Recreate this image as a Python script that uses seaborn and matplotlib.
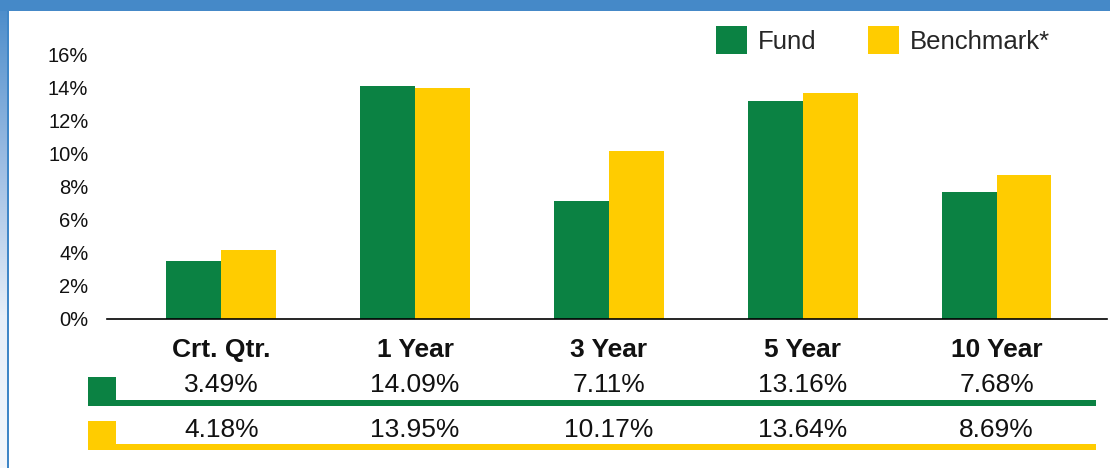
import numpy as np
import pandas as pd
import matplotlib.pyplot as plt
import matplotlib.transforms as mtransforms
from matplotlib.colors import LinearSegmentedColormap
from matplotlib.patches import Rectangle
import seaborn as sns

periods = ['Crt. Qtr.', '1 Year', '3 Year', '5 Year', '10 Year']
fund = [3.49, 14.09, 7.11, 13.16, 7.68]
benchmark = [4.18, 13.95, 10.17, 13.64, 8.69]
series = ['Fund', 'Benchmark*']
colors = ['#0B8243', '#FFCC00']
yticks = [0, 2, 4, 6, 8, 10, 12, 14, 16]

df = pd.DataFrame({
    'period': periods * 2,
    'series': [series[0]] * len(fund) + [series[1]] * len(benchmark),
    'value': fund + benchmark,
})

sns.set_style('white')
plt.rcParams['font.family'] = ['Liberation Sans', 'DejaVu Sans']

W, H = 1110, 468
fig = plt.figure(figsize=(11.1, 4.68), dpi=100)


def fx(px):
    return px / W


def fy(py):
    return 1 - py / H


# blue frame: top bar + left gradient strip
fig.add_artist(Rectangle((0, fy(11)), 1, 11 / H, transform=fig.transFigure,
                         color='#4589C8', lw=0))
strip = fig.add_axes([0, 0, fx(7), fy(11)])
cmap = LinearSegmentedColormap.from_list('strip', ['#4E8ECB', '#9DBDE3', '#E6EEF8', '#F3F7FC'])
strip.imshow(np.linspace(0, 1, 256).reshape(-1, 1), aspect='auto', cmap=cmap)
strip.axis('off')
fig.add_artist(Rectangle((fx(7), 0), 1.5 / W, fy(11), transform=fig.transFigure,
                         color='#3F86C7', lw=0))

ax = fig.add_axes([fx(107), fy(319), fx(1107) - fx(107), fy(54) - fy(319)])
sns.barplot(data=df, x='period', y='value', hue='series', palette=colors,
            width=0.567, gap=0, linewidth=0, saturation=1, ax=ax)

ax.set_ylim(0, 16)
ax.set_xlim(-0.59, 4.57)
ax.set_yticks(yticks)
ax.set_yticklabels([f'{t}%' for t in yticks], fontsize=14.5, color='#111111')
ax.tick_params(axis='y', length=0, pad=13.5)
ax.tick_params(axis='x', length=0, pad=14)
for lab in ax.get_xticklabels():
    lab.set_fontsize(19)
    lab.set_fontweight('bold')
    lab.set_color('#111111')
ax.set_xlabel('')
ax.set_ylabel('')
sns.despine(ax=ax, left=True)
ax.spines['bottom'].set_color('black')
ax.spines['bottom'].set_linewidth(1.2)

handles, labels = ax.get_legend_handles_labels()
ax.legend(handles, labels, ncol=2, frameon=False, fontsize=18.5,
          handlelength=1.2, handleheight=1.32, handletextpad=0.44,
          columnspacing=2.0, loc='upper left', borderpad=0, borderaxespad=0,
          bbox_to_anchor=(fx(716), fy(26)), bbox_transform=fig.transFigure)

# data table under the chart
trans = mtransforms.blended_transform_factory(ax.transData, fig.transFigure)
rows = [(fund, colors[0], 385, 377), (benchmark, colors[1], 430, 421)]
for values, col, ytext, ytop in rows:
    for i, v in enumerate(values):
        ax.text(i, fy(ytext), f'{v:.2f}%', transform=trans, ha='center',
                va='center', fontsize=19, color='#111111', clip_on=False)
    fig.add_artist(Rectangle((fx(88), fy(ytop + 29)), 28 / W, 29 / H,
                             transform=fig.transFigure, color=col, lw=0))
    fig.add_artist(Rectangle((fx(88), fy(ytop + 29)), (1096 - 88) / W, 6 / H,
                             transform=fig.transFigure, color=col, lw=0))

fig.savefig('out.png', dpi=100)
